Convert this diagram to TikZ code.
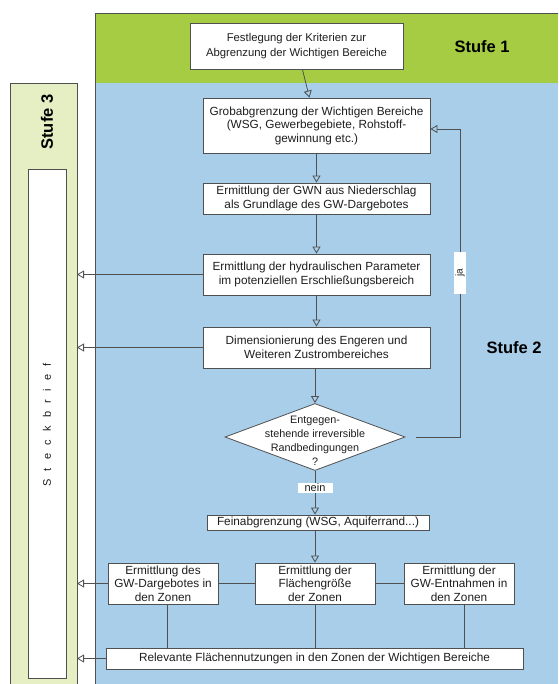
\documentclass[tikz,border=0pt]{standalone}
\usepackage{fontspec}
\setmainfont{Liberation Sans}
\usetikzlibrary{arrows.meta,shapes.geometric,calc}
\definecolor{gband}{RGB}{166,204,68}
\definecolor{bband}{RGB}{168,206,234}
\definecolor{pband}{RGB}{230,238,196}
\definecolor{lineg}{RGB}{80,80,80}
\definecolor{txt}{RGB}{30,30,30}
\begin{document}
\begin{tikzpicture}[x=1pt,y=-1pt,
  box/.style={draw=lineg, fill=white, line width=0.8pt, inner sep=0pt, align=center,
    font=\fontsize{11.8}{13.5}\selectfont, text=txt},
  conn/.style={draw=lineg, line width=0.8pt},
  arr/.style={conn, -{Triangle[open, length=7pt, width=8pt]}},
  stufe/.style={font=\fontsize{16.5}{18}\selectfont\bfseries, text=black}]
\useasboundingbox (0,0) rectangle (558,684);
\fill[white] (0,0) rectangle (558,684);
% bands
\fill[gband] (95,13) rectangle (558,83);
\fill[bband] (95,83) rectangle (558,684);
\draw[lineg, line width=0.6pt] (95,684) -- (95,13) -- (558,13);
% Stufe 3 panel
\draw[lineg, line width=0.6pt, fill=pband] (10,684) -- (10,83) -- (77,83) -- (77,684);
\draw[lineg, line width=0.6pt, fill=white] (28,169) rectangle (66,678);
\coordinate (pe) at (77,0);
\node[stufe, rotate=90] (s3) at (47,122) {Stufe 3};
\node[rotate=90, font=\fontsize{11}{13}\selectfont, text=txt] (steck) at (47,425)
  {S\hspace{8.3pt}t\hspace{8.3pt}e\hspace{8.3pt}c\hspace{8.3pt}k\hspace{8.3pt}b\hspace{8.3pt}r\hspace{8.3pt}i\hspace{8.3pt}e\hspace{8.3pt}f};
% stage labels
\node[stufe] (s1) at (482,47) {Stufe 1};
\node[stufe] (s2) at (514,348) {Stufe 2};
% main boxes
\node[box, font=\fontsize{11.3}{14.5}\selectfont, minimum width=213pt, minimum height=46pt] (b1) at (296.5,46)
  {Festlegung der Kriterien zur\\Abgrenzung der Wichtigen Bereiche};
\node[box, minimum width=227pt, minimum height=55pt] (b2) at (316.5,125.5)
  {Grobabgrenzung der Wichtigen Bereiche\\(WSG, Gewerbegebiete, Rohstoff-\\gewinnung etc.)};
\node[box, minimum width=227pt, minimum height=31pt] (b3) at (316.5,198.5)
  {Ermittlung der GWN aus Niederschlag\\als Grundlage des GW-Dargebotes};
\node[box, minimum width=227pt, minimum height=41pt] (b4) at (316.5,274.5)
  {Ermittlung der hydraulischen Parameter\\im potenziellen Erschließungsbereich};
\node[box, minimum width=227pt, minimum height=41pt] (b5) at (316.5,347.5)
  {Dimensionierung des Engeren und\\Weiteren Zustrombereiches};
\node[diamond, draw=lineg, fill=white, line width=0.8pt, minimum width=180pt,
  minimum height=67pt, inner sep=0pt] (dia) at (315,437) {};
\node[align=center, font=\fontsize{10.8}{14}\selectfont, text=txt] (diat) at (315,441)
  {Entgegen-\\stehende irreversible\\Randbedingungen\\?};
\node[box, minimum width=222pt, minimum height=15pt] (fein) at (318,522.5)
  {Feinabgrenzung (WSG, Aquiferrand...)};
\node[box, minimum width=110pt, minimum height=41pt] (za) at (163,583.5)
  {Ermittlung des\\GW-Dargebotes in\\den Zonen};
\node[box, minimum width=120pt, minimum height=41pt] (zb) at (315,583.5)
  {Ermittlung der\\Flächengröße\\der Zonen};
\node[box, minimum width=110pt, minimum height=41pt] (zc) at (459,583.5)
  {Ermittlung der\\GW-Entnahmen in\\den Zonen};
\node[box, minimum width=417pt, minimum height=21pt] (bot) at (314.5,658.5)
  {Relevante Flächennutzungen in den Zonen der Wichtigen Bereiche};
% main flow
\draw[arr] (b1) -- (b2);
\draw[arr] (b2) -- (b3);
\draw[arr] (b3) -- (b4);
\draw[arr] (b4) -- (b5);
\draw[arr] (b5.south -| dia.north) -- (dia.north);
\draw[arr] (dia.south) -- (dia.south |- fein.north)
  node[pos=0.38, fill=white, inner sep=0pt, minimum width=35pt, minimum height=10pt,
       font=\fontsize{11}{12}\selectfont, text=txt] (nein) {nein};
\draw[arr] (fein.south -| zb.north) -- (zb.north);
% feedback loop
\coordinate (fb) at (460,0);
\draw[arr] ([xshift=11pt]dia.east) -| ($(fb |- b2.east)+(0,3.5)$) -- ($(b2.east)+(0,3.5)$);
\node[fill=white, rotate=90, inner sep=0pt, minimum width=42pt, minimum height=12pt,
  font=\fontsize{10}{11}\selectfont, text=txt] (ja) at (460,273) {ja};
% zones
\draw[conn] (za) -- (zb);
\draw[conn] (zb) -- (zc);
\draw[conn] ([xshift=4.5pt]za.south) -- ([xshift=4.5pt]za.south |- bot.north);
\draw[conn] (zb.south) -- (zb.south |- bot.north);
\draw[conn] ([xshift=5pt]zc.south) -- ([xshift=5pt]zc.south |- bot.north);
% arrows to Steckbrief
\draw[arr] (b4.west) -- (b4.west -| pe);
\draw[arr] (b5.west) -- (b5.west -| pe);
\draw[arr] (za.west) -- (za.west -| pe);
\draw[arr] (bot.west) -- (bot.west -| pe);
\end{tikzpicture}
\end{document}
